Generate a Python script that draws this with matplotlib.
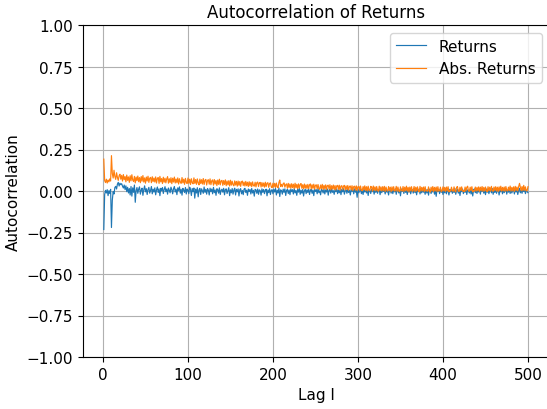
import numpy as np
import matplotlib
matplotlib.use("Agg")
import matplotlib.pyplot as plt

lags = list(range(1, 501))

returns_acf = [
    -.232, -.021, .004, -.012, .008, -.028, .002, -.015, .010, -.220, -.055, -.004, -.018, .021, .028, .012, .041, .052, .030, .047,
    .038, .044, .029, .018, .036, .009, .031, -.004, .022, -.012, .015, -.024, .027, -.031, .019, -.008, .036, -.068, .003, .021,
    -.014, .012, .025, -.019, .006, .017, -.026, .008, .031, -.005, .014, -.021, .009, .022, -.013, .004, .027, -.017, .011, -.006,
    .019, -.023, .007, .024, -.009, .013, -.028, .016, .002, .021, -.015, .009, .026, -.004, .012, -.019, .018, .005, -.011, .023,
    .008, -.017, .014, .027, -.006, .011, -.022, .019, .003, .025, -.013, .010, -.025, .016, .006, -.009, .021, -.018, .012, .004,
    -.016, .023, .009, -.027, .015, -.004, .018, -.043, .011, -.012, .020, -.035, .007, .016, -.021, .013, .001, -.014, .024, -.008,
    .010, -.019, .015, .005, -.024, .017, -.003, .012, -.017, .022, -.010, .006, -.026, .014, .008, -.013, .019, -.021, .004, .011,
    -.007, .016, -.023, .009, .013, -.015, .002, .020, -.028, .007, -.011, .015, -.019, .006, .017, -.024, .010, -.005, .013, -.030,
    .008, .014, -.017, .003, -.022, .011, .016, -.009, .005, -.026, .012, -.003, .009, -.018, .015, -.012, .004, -.031, .010, .006,
    -.014, .012, -.020, .007, .002, -.025, .013, -.008, .009, -.016, .004, .011, -.029, .006, -.010, .014, -.021, .003, .008, -.017,
    .010, -.006, .015, -.024, .005, -.012, .018, -.033, .007, .002, -.019, .011, -.008, .013, -.027, .004, .009, -.015, .006, -.022,
    .012, -.004, .008, -.018, .014, -.011, .003, -.026, .010, -.007, .016, -.020, .005, -.013, .009, -.030, .002, .011, -.016, .007,
    -.009, .013, -.021, .004, .010, -.014, .006, -.028, .012, -.003, .008, -.017, .015, -.010, .001, -.023, .009, .005, -.012, .011,
    -.018, .007, -.006, .012, -.025, .004, .009, -.013, .016, -.008, .002, -.020, .010, -.004, .013, -.016, .006, -.011, .008, -.022,
    .011, -.005, .014, -.019, .003, .007, -.014, .012, -.009, .005, -.024, .010, -.002, .008, -.017, .013, -.007, .004, -.038, .009,
    -.011, .006, .012, -.016, .003, -.021, .010, -.006, .014, -.012, .005, -.027, .008, .002, -.015, .011, -.004, .009, -.019, .007,
    -.008, .013, -.014, .004, .010, -.022, .006, -.010, .012, -.003, .008, -.018, .015, -.007, .002, -.024, .011, .005, -.013, .009,
    -.016, .007, -.005, .013, -.020, .004, .010, -.012, .006, -.029, .012, -.002, .009, -.015, .014, -.008, .003, -.021, .010, -.006,
    .011, -.017, .005, .008, -.013, .015, -.009, .002, -.023, .010, -.004, .012, -.018, .006, -.011, .013, -.007, .004, -.020, .009,
    -.012, .008, -.025, .011, .003, -.015, .007, -.006, .014, -.019, .005, -.032, .010, -.003, .009, -.016, .012, -.008, .004, -.021,
    .008, -.011, .013, -.017, .006, .002, -.024, .010, -.005, .012, -.014, .007, -.009, .015, -.020, .003, .011, -.013, .006, -.027,
    .009, -.004, .012, -.016, .005, -.008, .014, -.021, .007, .001, -.012, .010, -.018, .006, -.030, .008, .013, -.010, .004, -.015,
    .011, -.006, .009, -.019, .014, -.003, .007, -.013, .005, -.022, .012, -.008, .010, -.016, .003, .008, -.011, .015, -.020, .006,
    -.009, .012, -.014, .004, .010, -.024, .007, -.005, .013, -.017, .008, -.010, .002, .014, -.019, .006, -.007, .011, -.015, .009,
    -.012, .005, .010, -.018, .013, -.006, .008, -.021, .004, .016, -.011, .007, -.014, .012, -.003, .009, -.016, .006, -.004, -.010,
]

abs_returns_acf = [
    .192, .062, .051, .071, .048, .066, .055, .073, .060, .213, .105, .078, .125, .088, .070, .110, .082, .064, .092, .101,
    .071, .094, .060, .099, .068, .087, .055, .096, .064, .085, .052, .092, .061, .098, .066, .057, .088, .049, .084, .062,
    .090, .056, .081, .050, .087, .059, .093, .054, .079, .047, .084, .060, .089, .052, .077, .082, .050, .086, .057, .078,
    .054, .085, .048, .076, .081, .046, .088, .055, .075, .045, .083, .053, .077, .049, .073, .086, .047, .074, .051, .080,
    .044, .077, .054, .084, .048, .072, .050, .079, .042, .074, .053, .046, .081, .049, .071, .040, .076, .052, .045, .078,
    .047, .071, .039, .074, .050, .043, .079, .046, .069, .040, .073, .049, .037, .072, .045, .068, .042, .075, .039, .065,
    .070, .036, .064, .068, .041, .073, .038, .062, .067, .035, .069, .042, .063, .033, .066, .040, .071, .037, .061, .064,
    .034, .063, .039, .067, .032, .060, .037, .062, .030, .065, .035, .059, .038, .031, .061, .036, .058, .029, .060, .034,
    .057, .028, .055, .060, .033, .054, .030, .058, .032, .053, .027, .056, .031, .052, .026, .055, .033, .029, .053, .025,
    .050, .054, .027, .049, .052, .024, .051, .028, .048, .023, .053, .026, .047, .050, .022, .045, .049, .025, .020, .047,
    .024, .046, .021, .048, .025, .019, .052, .066, .027, .040, .026, .044, .049, .023, .038, .043, .016, .046, .021, .042,
    .017, .044, .020, .041, .015, .047, .019, .040, .014, .043, .018, .039, .045, .016, .038, .013, .042, .017, .037, .015,
    .040, .014, .036, .043, .012, .038, .016, .041, .011, .035, .037, .013, .039, .015, .010, .036, .014, .040, .009, .034,
    .013, .037, .008, .033, .035, .011, .038, .007, .032, .012, .036, .009, .033, .006, .031, .034, .010, .035, .005, .030,
    .032, .008, .029, .034, .006, .031, .009, .033, .004, .028, .030, .007, .032, .003, .027, .029, .005, .031, .002, .026,
    .028, .004, .030, .006, .001, .027, .007, .031, .003, .026, .000, .029, .005, .002, .028, .024, -.001, .030, .004, .025,
    .001, .027, .005, -.002, .029, .003, .025, .000, .026, .002, .028, -.003, .024, .004, -.001, .027, .003, .023, -.004, .025,
    .002, .026, -.001, .004, .028, -.002, .024, .001, -.005, .025, .003, .000, .027, -.003, .023, .002, .029, -.001, .022, -.006,
    .024, .001, .026, -.002, .003, .027, -.004, .023, .000, .025, .002, -.005, .028, -.001, .022, .001, .024, -.003, .026, .000,
    .003, -.002, .025, .002, -.007, .023, .000, .027, -.003, .022, .001, .024, -.004, .026, -.001, .003, .023, -.005, .002, .025,
    .000, .022, -.003, .024, .001, .026, -.005, .003, -.001, .023, .002, -.002, .025, .000, -.006, .022, .027, .001, -.003, .023,
    .002, .025, -.001, .003, -.004, .024, .000, .022, .029, .001, -.002, .023, .002, .026, -.005, .003, .000, .024, -.001, .022,
    .001, .025, -.003, .023, .002, .027, -.002, .022, .000, .024, .003, -.004, .026, .001, .023, -.001, .028, .002, -.002, .024,
    .003, .026, .000, .023, -.003, .025, .002, .029, -.001, .022, .001, .024, -.002, .027, .003, .000, .023, .002, .030, -.001,
    .022, .001, .025, -.002, .028, .003, .024, .000, .026, .046, .023, .001, .027, .002, .034, .004, .025, .000, .003, .026,
]

series_labels = ["Returns", "Abs. Returns"]
x_ticks = [0, 100, 200, 300, 400, 500]
y_ticks = [-1.00, -0.75, -0.50, -0.25, 0.00, 0.25, 0.50, 0.75, 1.00]

fig = plt.figure(figsize=(5.47, 4.10), dpi=100)
W, H = 547.0, 410.0
ax = fig.add_axes([82.6 / W, 52.0 / H, (549.2 - 82.6) / W, (358.0 - 26.0) / H])

ax.plot(lags, returns_acf, color="#1f77b4", lw=0.85, label=series_labels[0])
ax.plot(lags, abs_returns_acf, color="#ff7f0e", lw=0.85, label=series_labels[1])

ax.set_ylim(-1.0, 1.0)
ax.set_xticks(x_ticks)
ax.set_yticks(y_ticks)
ax.tick_params(labelsize=11)
ax.grid(True, color="#b0b0b0", lw=0.8)
ax.set_axisbelow(True)
ax.set_title("Autocorrelation of Returns", fontsize=12)
ax.set_xlabel("Lag l", fontsize=11)
ax.set_ylabel("Autocorrelation", fontsize=11)
ax.legend(loc="upper right", fontsize=11)

fig.savefig("out.png", dpi=100)
